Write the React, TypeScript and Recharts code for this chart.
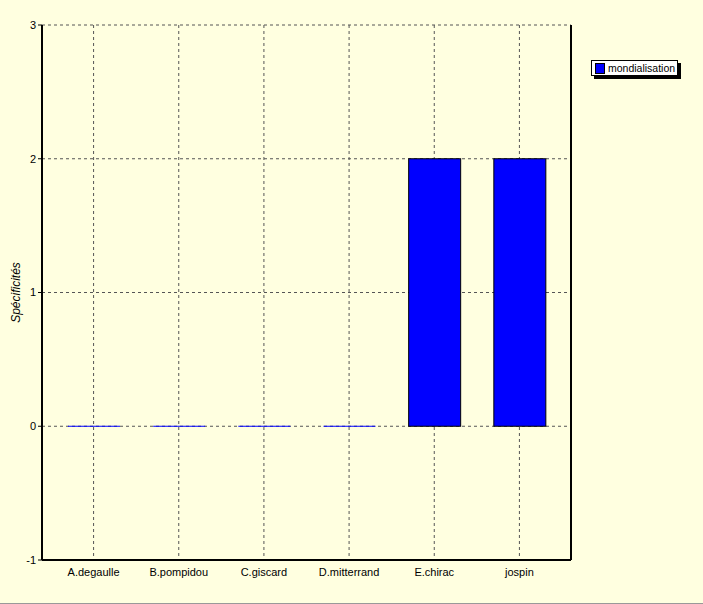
import React from 'react';
import {
  BarChart, Bar, XAxis, YAxis, CartesianGrid,
} from 'recharts';

const candidates = ['A.degaulle', 'B.pompidou', 'C.giscard', 'D.mitterrand', 'E.chirac', 'jospin'];
const mondialisation = [0, 0, 0, 0, 2, 2];
const yTicks = [-1, 0, 1, 2, 3];

const data = candidates.map((name, i) => ({ name, mondialisation: mondialisation[i] }));

const FONT = 'Arial, "Liberation Sans", sans-serif';

// zero-height bars still show as a thin blue line on the baseline
const BarShape = (props: any) => {
  const { x, y, width, height } = props;
  if (!height || Math.abs(height) < 1) {
    return <line x1={x} x2={x + width} y1={y} y2={y} stroke="#0000FF" strokeWidth={1} />;
  }
  return <rect x={x} y={y} width={width} height={height} fill="#0000FF" stroke="#000" strokeWidth={1} />;
};

const LegendBox = () => (
  <div style={{ position: 'absolute', left: 591, top: 60, width: 90, height: 19 }}>
    <div style={{ position: 'absolute', left: 3, top: 3, width: 87, height: 16, background: '#000' }} />
    <div style={{
      position: 'absolute', left: 0, top: 0, width: 85, height: 14, background: '#fff',
      border: '1px solid #000', display: 'flex', alignItems: 'center', fontFamily: FONT, fontSize: 10.5,
      whiteSpace: 'nowrap', overflow: 'hidden',
    }}>
      <span style={{ display: 'inline-block', width: 8, height: 9, background: '#0000FF', border: '1px solid #000', marginLeft: 3, marginRight: 3 }} />
      <span>mondialisation</span>
    </div>
  </div>
);

export default function App() {
  return (
    <div style={{ position: 'absolute', left: 0, top: 0, width: 703, height: 604, background: '#FFFFE0', borderBottom: '1px solid #999', boxSizing: 'border-box' }}>
      <BarChart width={703} height={602} data={data} margin={{ top: 25, right: 130, bottom: 0, left: 0 }}>
        <CartesianGrid stroke="#555" strokeDasharray="3 3" fill="#FFFFE0" />
        <XAxis
          dataKey="name"
          padding={{ left: 9, right: 9 }}
          height={42}
          tickLine={false}
          axisLine={{ stroke: '#000', strokeWidth: 2 }}
          tick={{ fill: '#000', fontSize: 11, fontFamily: FONT }}
          interval={0}
        />
        <YAxis
          domain={[-1, 3]}
          ticks={yTicks}
          width={42}
          tickSize={4}
          tickMargin={2}
          tickLine={{ stroke: '#000' }}
          axisLine={{ stroke: '#000', strokeWidth: 2 }}
          tick={{ fill: '#000', fontSize: 11, fontFamily: FONT }}
          label={{ value: 'Spécificités', angle: -90, position: 'insideLeft', offset: 16, style: { fontStyle: 'italic', fontSize: 12, fontFamily: FONT, fill: '#000', textAnchor: 'middle' } }}
        />
        <YAxis
          yAxisId="right"
          orientation="right"
          domain={[-1, 3]}
          width={2}
          tick={false}
          tickLine={false}
          axisLine={{ stroke: '#000', strokeWidth: 2 }}
        />
        <Bar dataKey="mondialisation" barSize={52} shape={BarShape} isAnimationActive={false} />
      </BarChart>
      <LegendBox />
    </div>
  );
}
